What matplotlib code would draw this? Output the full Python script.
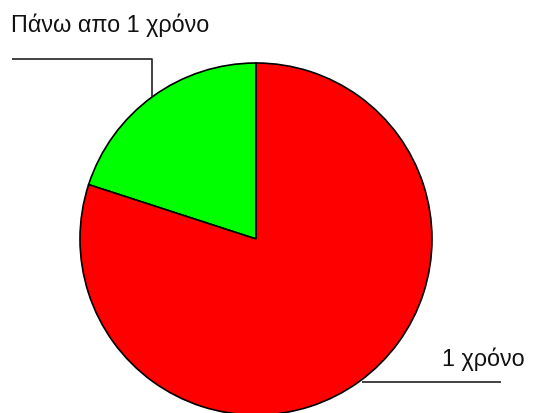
import matplotlib
matplotlib.use("Agg")
import matplotlib.pyplot as plt

# Share of respondents by duration
labels = ["Πάνω απο 1 χρόνο", "1 χρόνο"]
values = [20, 80]
colors = ["#00ff00", "#ff0000"]

W, H = 536, 414
fig = plt.figure(figsize=(W / 100, H / 100), dpi=100)
ax = fig.add_axes([0, 0, 1, 1])

cx, cy, r = 256, 240, 176

wedges, _ = ax.pie(values, colors=colors, startangle=-90, counterclock=False,
                   center=(cx, cy), radius=r, frame=True,
                   wedgeprops=dict(edgecolor="black", linewidth=1.2))
ax.set_xlim(0, W)
ax.set_ylim(H, 0)
ax.set_aspect("equal")
ax.axis("off")

font = dict(family=["Liberation Sans", "DejaVu Sans"], fontsize=16.8, color="#111111")

# Leader lines and labels
ax.plot([12, 152, 152], [60, 60, 98], color="#222222", lw=1.2, solid_capstyle="butt")
ax.text(11, 32, labels[0], ha="left", va="baseline", **font)

ax.plot([362, 501], [383, 383], color="#222222", lw=1.2, solid_capstyle="butt")
ax.text(442, 366, labels[1], ha="left", va="baseline", **font)

fig.savefig("out.png", dpi=100)
